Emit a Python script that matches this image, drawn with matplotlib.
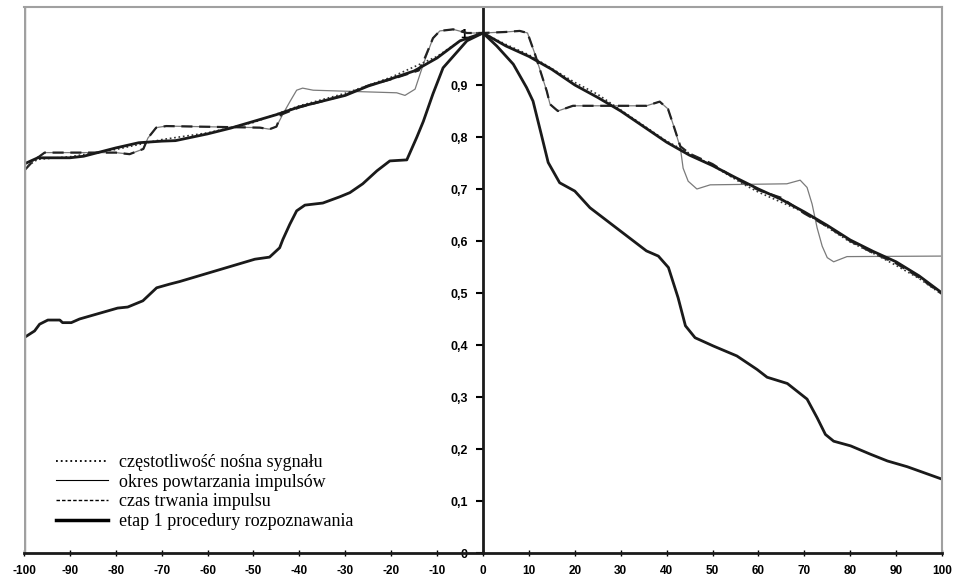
import matplotlib.pyplot as plt
from matplotlib.lines import Line2D

# x positions and values

# upper smooth curve (thick)
x_upper = [-100, -97, -90, -87, -80, -75, -70, -67, -60, -55, -50, -45, -40, -35, -30,
           -25, -20, -15, -10, -5, 0, 5, 10, 15, 20, 25, 30, 35, 40, 45, 50, 55, 60,
           65, 70, 75, 80, 85, 90, 95, 100]
y_upper = [0.748, 0.76, 0.76, 0.763, 0.779, 0.789, 0.792, 0.793, 0.806, 0.817, 0.83,
           0.843, 0.858, 0.869, 0.88, 0.898, 0.912, 0.927, 0.952, 0.985, 1.0, 0.975,
           0.955, 0.93, 0.9, 0.876, 0.85, 0.82, 0.79, 0.765, 0.745, 0.722, 0.7, 0.68,
           0.656, 0.63, 0.602, 0.58, 0.56, 0.533, 0.5]

# czestotliwosc nosna sygnalu (dotted), close to the upper curve
x_freq = [-100, -97, -90, -80, -70, -60, -50, -40, -30, -20, -10, -5, 0, 5, 10, 20,
          25, 30, 40, 50, 57, 60, 70, 80, 86, 90, 95, 100]
y_freq = [0.74, 0.757, 0.762, 0.776, 0.795, 0.808, 0.828, 0.86, 0.884, 0.915, 0.955,
          0.985, 1.0, 0.978, 0.958, 0.905, 0.882, 0.852, 0.792, 0.745, 0.708, 0.694,
          0.655, 0.598, 0.572, 0.553, 0.528, 0.497]

# okres powtarzania impulsow (thin solid), step curve
x_period = [-100, -98, -95.5, -80, -77, -74, -73, -71.2, -69, -48.6, -46.5, -45,
            -43.6, -42, -40.6, -39.3, -37, -18.8, -17, -14.8, -13, -10.9, -9.4, -6.5,
            -3.5, 0, 5, 8, 9.7, 11.3, 13.9, 14.6, 16.3, 19.6, 35.6, 38.5, 40.3, 41.4,
            43, 43.6, 44.7, 46.6, 49.5, 66.2, 69.1, 70.6, 71.7, 72.8, 73.9, 75, 76.4,
            79.3, 100]
y_period = [0.735, 0.754, 0.77, 0.77, 0.767, 0.777, 0.798, 0.818, 0.821, 0.818,
            0.815, 0.82, 0.844, 0.869, 0.89, 0.894, 0.89, 0.885, 0.88, 0.892, 0.94,
            0.99, 1.004, 1.007, 1.0, 1.0, 1.002, 1.004, 1.0, 0.96, 0.888, 0.863, 0.85,
            0.86, 0.86, 0.868, 0.854, 0.825, 0.779, 0.74, 0.715, 0.7, 0.708, 0.71,
            0.717, 0.703, 0.671, 0.625, 0.59, 0.568, 0.56, 0.57, 0.571]

# czas trwania impulsu (dashed)
x_width = [-100, -98, -95.5, -80, -77, -74, -73, -71.2, -69, -48.6, -46.5, -45,
           -44, -40, -35, -30, -25, -20, -14, -13, -10.9, -9.4, -6.5, -3.5, 0, 5,
           8, 9.7, 11.3, 13.9, 14.6, 16.3, 19.6, 35.6, 38.5, 40.3, 41.4, 43, 45, 50,
           55, 60, 65, 70, 75, 80, 85, 90, 95, 100]
y_width = [0.735, 0.754, 0.77, 0.77, 0.767, 0.777, 0.798, 0.818, 0.821, 0.818,
           0.815, 0.82, 0.843, 0.857, 0.869, 0.881, 0.899, 0.911, 0.928, 0.945, 0.99,
           1.004, 1.007, 1.0, 1.0, 1.002, 1.004, 1.0, 0.96, 0.888, 0.863, 0.85, 0.86,
           0.86, 0.868, 0.854, 0.825, 0.782, 0.768, 0.748, 0.72, 0.698, 0.683, 0.653,
           0.628, 0.6, 0.577, 0.557, 0.53, 0.498]

# etap 1 procedury rozpoznawania (thick), lower curve
x_stage = [-100, -97.7, -96.6, -94.8, -92.2, -91.6, -89.7, -87.9, -79.6, -77.4, -74.1,
           -71.1, -68.3, -66.1, -49.7, -46.5, -44.3, -43.6, -42.1, -40.6, -38.8, -34.9,
           -31.2, -29, -26.2, -23.1, -20.3, -16.6, -14.4, -13, -10.9, -8.7, -6, -3.5,
           0, 3, 6.6, 9.5, 10.9, 12.7, 14.2, 16.7, 20, 23.3, 35.6, 38.2, 40.4, 42.5,
           44.1, 46.2, 50.2, 55.3, 59.7, 61.9, 66.3, 70.6, 72.8, 74.6, 76.4, 80.1,
           84.4, 88.1, 92.4, 100]
y_stage = [0.414, 0.427, 0.44, 0.448, 0.448, 0.443, 0.443, 0.45, 0.471, 0.473, 0.485,
           0.51, 0.517, 0.522, 0.565, 0.569, 0.587, 0.603, 0.632, 0.658, 0.669, 0.673,
           0.685, 0.693, 0.71, 0.735, 0.754, 0.756, 0.8, 0.83, 0.883, 0.933, 0.96,
           0.985, 1.0, 0.975, 0.94, 0.895, 0.869, 0.805, 0.751, 0.712, 0.696, 0.664,
           0.581, 0.571, 0.549, 0.491, 0.437, 0.414, 0.398, 0.379, 0.353, 0.338, 0.326,
           0.296, 0.26, 0.228, 0.215, 0.206, 0.19, 0.177, 0.166, 0.142]

x_ticks = [-100, -90, -80, -70, -60, -50, -40, -30, -20, -10, 0, 10, 20, 30, 40, 50,
           60, 70, 80, 90, 100]
y_ticks = [0, 0.1, 0.2, 0.3, 0.4, 0.5, 0.6, 0.7, 0.8, 0.9, 1.0]
y_labels = ["0", "0,1", "0,2", "0,3", "0,4", "0,5", "0,6", "0,7", "0,8", "0,9", "1"]

legend_labels = ["częstotliwość nośna sygnału", "okres powtarzania impulsów",
                 "czas trwania impulsu", "etap 1 procedury rozpoznawania"]

###
# Plot
###
fig = plt.figure(figsize=(9.56, 5.82), dpi=100)
ax = fig.add_axes([24/956, 29/582, 918/956, 546/582])

ax.plot(x_period, y_period, "-", color="#7a7a7a", lw=0.9)
ax.plot(x_width, y_width, "--", color="#222222", lw=1.6, dashes=(5, 3))
ax.plot(x_freq, y_freq, ":", color="#333333", lw=1.2)
ax.plot(x_upper, y_upper, "-", color="#1a1a1a", lw=2)
ax.plot(x_stage, y_stage, "-", color="#1a1a1a", lw=2)

ax.set_xlim(-100, 100)
ax.set_ylim(0, 1.05)

# frame: grey box, black axes through zero
grey = "#a0a0a0"
for s in ["top", "right"]:
    ax.spines[s].set_color(grey)
    ax.spines[s].set_linewidth(1.5)
ax.axvline(-100, color=grey, lw=2.5)
ax.spines["left"].set_position(("data", 0))
ax.spines["left"].set_color("#1a1a1a")
ax.spines["left"].set_linewidth(2)
ax.spines["bottom"].set_color("#1a1a1a")
ax.spines["bottom"].set_linewidth(2)

ax.set_xticks(x_ticks)
ax.set_xticklabels([str(t) for t in x_ticks], fontsize=8.5, fontweight="bold",
                   family="Liberation Sans")
ax.set_yticks(y_ticks)
ax.set_yticklabels(y_labels, fontsize=9, fontweight="bold", family="Liberation Sans")
ax.tick_params(axis="y", direction="out", length=5, width=1.5, pad=6)
ax.tick_params(axis="x", direction="inout", length=4, width=1, pad=7)

# legend in the lower left corner (thin handles like the original)
handles = [Line2D([], [], color="black", lw=1.3, ls=":"),
           Line2D([], [], color="black", lw=0.8),
           Line2D([], [], color="black", lw=1, ls="--", dashes=(2.5, 1.5)),
           Line2D([], [], color="black", lw=2.5)]
ax.legend(handles, legend_labels, loc="lower left", bbox_to_anchor=(56/956, 52/582),
          bbox_transform=fig.transFigure, frameon=False,
          prop={"family": "Liberation Serif", "size": 13},
          handlelength=2.9, handletextpad=0.6, labelspacing=0.15,
          borderpad=0, borderaxespad=0)

plt.savefig("out.png", dpi=100)
